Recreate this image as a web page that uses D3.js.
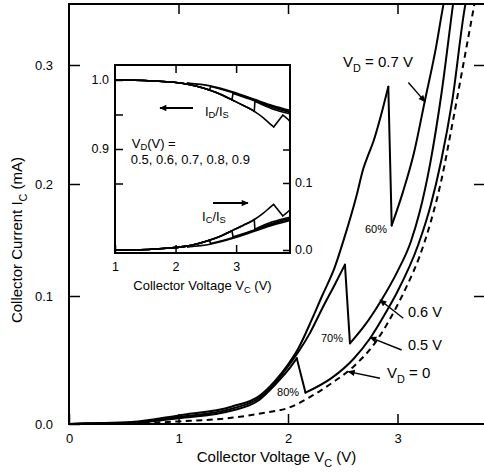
<!DOCTYPE html>
<html>
<head>
<meta charset="utf-8">
<script src="https://cdn.jsdelivr.net/npm/d3@7/dist/d3.min.js"></script>
<style>
  body { margin: 0; background: #fff; }
  svg text { font-family: "Liberation Sans", Arial, Helvetica, sans-serif; fill: #000; }
</style>
</head>
<body>
<svg id="chart" width="484" height="474"></svg>
<script>
// ---- main plot data (V_C in V, I_C in mA) ----
const mainXTicks = [0, 1, 2, 3];
const mainYTicks = [0.0, 0.1, 0.2, 0.3];

// V_D = 0, dashed
const curveVd0 = [[0.3, 0], [0.6, 0.0005], [1.0, 0.002], [1.5, 0.005], [1.8, 0.009], [2.0, 0.0125],
    [2.2, 0.021], [2.4, 0.032], [2.6, 0.045], [2.8, 0.064], [3.0, 0.093], [3.1, 0.112], [3.2, 0.135],
    [3.3, 0.165], [3.4, 0.203], [3.5, 0.25], [3.6, 0.3], [3.7, 0.35], [3.72, 0.36]];

// V_D = 0.5 V : rise up to the 80% peak, then after the drop
const riseVd05 = [[0, 0], [0.15, 0.0002], [0.57, 0.0008], [1.0, 0.0045], [1.49, 0.0105], [1.74, 0.019],
    [1.88, 0.0305], [2.0, 0.042], [2.08, 0.0513]];
const afterVd05 = [[2.16, 0.0245], [2.4, 0.036], [2.6, 0.051], [2.75, 0.067], [2.9, 0.088], [3.0, 0.104],
    [3.19, 0.146], [3.3, 0.18], [3.4, 0.22], [3.5, 0.27], [3.62, 0.351], [3.64, 0.36]];

// V_D = 0.6 V : 70% peak
const riseVd06 = [[0, 0], [0.15, 0.0003], [0.57, 0.001], [1.0, 0.0055], [1.49, 0.012], [1.74, 0.0205],
    [1.88, 0.032], [2.0, 0.045], [2.1, 0.057], [2.2, 0.071], [2.308, 0.0895], [2.429, 0.1105], [2.52, 0.128]];
const afterVd06 = [[2.566, 0.063], [2.7, 0.077], [2.84, 0.095], [3.0, 0.122], [3.12, 0.148], [3.2, 0.174],
    [3.3, 0.218], [3.4, 0.275], [3.507, 0.351], [3.52, 0.36]];

// V_D = 0.7 V : 60% peak
const riseVd07 = [[0, 0], [0.15, 0.0005], [0.57, 0.0015], [1.0, 0.0067], [1.49, 0.0137], [1.74, 0.022],
    [1.88, 0.0335], [2.0, 0.0465], [2.094, 0.059], [2.216, 0.0813], [2.308, 0.0994], [2.429, 0.1262],
    [2.505, 0.149], [2.627, 0.19], [2.688, 0.213], [2.733, 0.2244], [2.779, 0.2355], [2.85, 0.258], [2.916, 0.2818]];
const afterVd07 = [[2.947, 0.163], [3.05, 0.193], [3.15, 0.226], [3.25, 0.27], [3.35, 0.314], [3.42, 0.351], [3.44, 0.36]];

// labels and pointers on the main plot, in data units
const curveLabels = [
    {parts: [['V'], ['D', 1], [' = 0.7 V']], at: [2.502, 0.2983], size: 15},
    {parts: [['0.6 V']], at: [3.096, 0.0836], size: 14.5},
    {parts: [['0.5 V']], at: [3.096, 0.0578], size: 14.5},
    {parts: [['V'], ['D', 1], [' = 0']], at: [2.904, 0.0359], size: 15},
    {parts: [['60%']], at: [2.703, 0.1563], size: 11},
    {parts: [['70%']], at: [2.301, 0.0641], size: 11},
    {parts: [['80%']], at: [1.9, 0.0219], size: 11}
];
const curvePointers = [
    [[3.099, 0.2853], [3.251, 0.2692]],
    [[3.053, 0.0826], [2.840, 0.0969]],
    [[3.038, 0.0578], [2.749, 0.0677]],
    [[2.840, 0.0357], [2.551, 0.0409]]
];

// ---- inset data ----
const insetXTicks = [1, 2, 3];
const insetLeftTicks = [0.85, 0.9, 0.95, 1.0];
const insetRightTicks = [0.0, 0.1, 0.15];

// I_C/I_S : common rise, peak of each V_D, then the part after the drop
const icEnvelope = [[1, 0], [1.3, 0.0004], [1.6, 0.0012], [1.85, 0.0026], [2.13, 0.005], [2.35, 0.009],
    [2.57, 0.0149], [2.75, 0.021], [2.96, 0.030], [3.12, 0.037], [3.29, 0.0448], [3.45, 0.055],
    [3.56, 0.0635], [3.62, 0.068]];
const icPeaks = [[2.18, 0.0058], [2.56, 0.0146], [2.93, 0.0288], [3.30, 0.0455], [3.62, 0.068]];
const icAfter05 = [[2.2, 0.0045], [2.57, 0.0085], [2.95, 0.0175], [3.3, 0.028], [3.6, 0.037], [3.89, 0.044]];
const icAfter06 = [[2.58, 0.0095], [2.95, 0.0185], [3.3, 0.029], [3.6, 0.0385], [3.89, 0.0455]];
const icAfter07 = [[2.95, 0.0195], [3.3, 0.030], [3.6, 0.040], [3.89, 0.047]];
const icAfter08 = [[3.31, 0.031], [3.6, 0.042], [3.89, 0.049]];
const icAfter09 = [[3.77, 0.051], [3.83, 0.055], [3.89, 0.060]];

// I_D/I_S
const idEnvelope = [[1, 1.0], [1.3, 0.9996], [1.6, 0.9988], [1.85, 0.9974], [2.13, 0.995], [2.35, 0.991],
    [2.57, 0.9851], [2.75, 0.979], [2.96, 0.970], [3.12, 0.963], [3.29, 0.9552], [3.45, 0.945],
    [3.56, 0.9365], [3.62, 0.932]];
const idPeaks = [[2.18, 0.9942], [2.56, 0.9854], [2.93, 0.9712], [3.30, 0.9545], [3.62, 0.932]];
const idAfter05 = [[2.2, 0.9955], [2.57, 0.9915], [2.95, 0.9825], [3.3, 0.972], [3.6, 0.963], [3.89, 0.956]];
const idAfter06 = [[2.58, 0.9905], [2.95, 0.9815], [3.3, 0.971], [3.6, 0.9615], [3.89, 0.9545]];
const idAfter07 = [[2.95, 0.9805], [3.3, 0.970], [3.6, 0.960], [3.89, 0.953]];
const idAfter08 = [[3.31, 0.969], [3.6, 0.958], [3.89, 0.951]];
const idAfter09 = [[3.77, 0.949], [3.83, 0.945], [3.89, 0.940]];

const insetLabels = [
    {parts: [['I'], ['D', 1], ['/I'], ['S', 1]], at: [2.486, 0.9478], side: 'left'},
    {parts: [['V'], ['D', 1], ['(V) =']], at: [1.276, 0.9015], side: 'left'},
    {parts: [['0.5, 0.6, 0.7, 0.8, 0.9']], at: [1.259, 0.8780], side: 'left'},
    {parts: [['I'], ['C', 1], ['/I'], ['S', 1]], at: [2.437, 0.0433], side: 'right'}
];
const insetPointers = [
    {from: [2.288, 0.9594], to: [1.743, 0.9594], side: 'left'},
    {from: [2.618, 0.0701], to: [3.196, 0.0701], side: 'right'}
];

// ---- drawing ----
const svg = d3.select('#chart');

const xScale = d3.scaleLinear().domain([0, 3.8]).range([69, 485.1]);
const yScale = d3.scaleLinear().domain([0, 0.1, 0.2, 0.3, 0.3513]).range([424, 296, 184, 65, 4]);

const defs = svg.append('defs');
defs.append('clipPath').attr('id', 'main-clip')
    .append('rect').attr('x', 69).attr('y', 4).attr('width', 420).attr('height', 420);
defs.append('marker')
    .attr('id', 'head')
    .attr('viewBox', '0 0 10 10')
    .attr('refX', 9).attr('refY', 5)
    .attr('markerWidth', 8).attr('markerHeight', 7)
    .attr('markerUnits', 'userSpaceOnUse')
    .attr('orient', 'auto')
    .append('path').attr('d', 'M0,0.5L10,5L0,9.5Z').attr('fill', '#000');

// writes text with subscripts; parts = [[text, isSub], ...]
function richText(sel, parts, size, drop) {
    const shift = size * (drop || 0.3);
    parts.forEach((p, i) => {
        const t = sel.append('tspan').text(p[0]);
        if (p[1]) t.attr('font-size', size * 0.72).attr('dy', shift);
        else if (i > 0 && parts[i - 1][1]) t.attr('dy', -shift);
    });
}

// main curves
const smooth = (xs, ys) => d3.line().x(d => xs(d[0])).y(d => ys(d[1])).curve(d3.curveMonotoneX);
const straight = (xs, ys) => d3.line().x(d => xs(d[0])).y(d => ys(d[1]));

const curves = svg.append('g')
    .attr('clip-path', 'url(#main-clip)')
    .attr('fill', 'none')
    .attr('stroke', '#000')
    .attr('stroke-linecap', 'round')
    .attr('stroke-linejoin', 'round');

curves.append('path')
    .attr('d', smooth(xScale, yScale)(curveVd0))
    .attr('stroke-width', 2)
    .attr('stroke-linecap', 'butt')
    .attr('stroke-dasharray', '6,4.5');

const mainCurves = [
    {rise: riseVd05, after: afterVd05},
    {rise: riseVd06, after: afterVd06},
    {rise: riseVd07, after: afterVd07}
];
mainCurves.forEach(c => {
    const peak = c.rise[c.rise.length - 1];
    curves.append('path').attr('stroke-width', 2).attr('d', smooth(xScale, yScale)(c.rise));
    curves.append('path').attr('stroke-width', 2).attr('d', straight(xScale, yScale)([peak, c.after[0]]));
    curves.append('path').attr('stroke-width', 2).attr('d', smooth(xScale, yScale)(c.after));
});

// main axes (ticks inward)
const fmt1 = d3.format('.1f');
let xAxis = svg.append('g').attr('transform', 'translate(0,424)')
    .call(d3.axisBottom(xScale).tickValues(mainXTicks).tickSize(-10).tickPadding(9.5).tickFormat(d3.format('d')));
let xAxisTop = svg.append('g').attr('transform', 'translate(0,4)')
    .call(d3.axisTop(xScale).tickValues([1, 2, 3]).tickSize(-10).tickFormat(() => ''));
let yAxis = svg.append('g').attr('transform', 'translate(69,0)')
    .call(d3.axisLeft(yScale).tickValues(mainYTicks).tickSize(-11).tickPadding(16).tickFormat(fmt1));
let yAxisRight = svg.append('g').attr('transform', 'translate(486,0)')
    .call(d3.axisRight(yScale).tickValues([0.1, 0.2, 0.3]).tickSize(-12).tickFormat(() => ''));
[xAxis, xAxisTop, yAxis, yAxisRight].forEach(a => {
    a.select('.domain').remove();
    a.attr('font-size', 13);
    a.selectAll('line').attr('stroke-width', 1.5);
});

// frame
svg.append('path')
    .attr('d', 'M486,4H69V424H486')
    .attr('fill', 'none').attr('stroke', '#000').attr('stroke-width', 2);

// axis titles
richText(svg.append('text')
    .attr('x', 276.5).attr('y', 462)
    .attr('text-anchor', 'middle').attr('font-size', 15),
    [['Collector Voltage V'], ['C', 1], [' (V)']], 15);
richText(svg.append('text')
    .attr('transform', 'rotate(-90)')
    .attr('x', -240).attr('y', 22)
    .attr('text-anchor', 'middle').attr('font-size', 15),
    [['Collector Current I'], ['C', 1], [' (mA)']], 15);

// curve labels and pointers
curveLabels.forEach(l => {
    richText(svg.append('text')
        .attr('x', xScale(l.at[0])).attr('y', yScale(l.at[1]))
        .attr('font-size', l.size), l.parts, l.size);
});
curvePointers.forEach(p => {
    svg.append('line')
        .attr('x1', xScale(p[0][0])).attr('y1', yScale(p[0][1]))
        .attr('x2', xScale(p[1][0])).attr('y2', yScale(p[1][1]))
        .attr('stroke', '#000').attr('stroke-width', 1.4)
        .attr('marker-end', 'url(#head)');
});

// ---- inset ----
const ix = d3.scaleLinear().domain([1, 3.89]).range([115, 290]);
const iyLeft = d3.scaleLinear().domain([0.7493, 1.0217]).range([253, 65]);
const iyRight = d3.scaleLinear().domain([-0.0045, 0.2761]).range([253, 65]);

const inset = svg.append('g');
inset.append('rect')
    .attr('x', 115).attr('y', 65).attr('width', 175).attr('height', 188)
    .attr('fill', '#fff');

const insetCurves = inset.append('g')
    .attr('fill', 'none')
    .attr('stroke', '#000')
    .attr('stroke-width', 1.6)
    .attr('stroke-linecap', 'round')
    .attr('stroke-linejoin', 'round');

function drawFamily(envelope, peaks, afters, ys) {
    peaks.forEach((pk, i) => {
        const rise = envelope.filter(d => d[0] < pk[0]).concat([pk]);
        insetCurves.append('path').attr('d', smooth(ix, ys)(rise));
        insetCurves.append('path').attr('d', straight(ix, ys)([pk, afters[i][0]]));
        insetCurves.append('path').attr('d', smooth(ix, ys)(afters[i]));
    });
}
drawFamily(icEnvelope, icPeaks, [icAfter05, icAfter06, icAfter07, icAfter08, icAfter09], iyRight);
drawFamily(idEnvelope, idPeaks, [idAfter05, idAfter06, idAfter07, idAfter08, idAfter09], iyLeft);

let ixAxis = inset.append('g').attr('transform', 'translate(0,253)')
    .call(d3.axisBottom(ix).tickValues(insetXTicks).tickSize(-8).tickPadding(9.5).tickFormat(d3.format('d')));
let ixAxisTop = inset.append('g').attr('transform', 'translate(0,65)')
    .call(d3.axisTop(ix).tickValues([2, 3]).tickSize(-8).tickFormat(() => ''));
let iyAxisLeft = inset.append('g').attr('transform', 'translate(115,0)')
    .call(d3.axisLeft(iyLeft).tickValues(insetLeftTicks).tickSize(-8).tickPadding(6)
        .tickFormat(d => (d === 0.9 || d === 1.0) ? fmt1(d) : ''));
let iyAxisRight = inset.append('g').attr('transform', 'translate(290,0)')
    .call(d3.axisRight(iyRight).tickValues(insetRightTicks).tickSize(-7).tickPadding(5)
        .tickFormat(d => (d === 0 || d === 0.1) ? fmt1(d) : ''));
[ixAxis, ixAxisTop, iyAxisLeft, iyAxisRight].forEach(a => {
    a.select('.domain').remove();
    a.attr('font-size', 12.5);
    a.selectAll('line').attr('stroke-width', 1.5);
});

inset.append('rect')
    .attr('x', 115).attr('y', 65).attr('width', 175).attr('height', 188)
    .attr('fill', 'none').attr('stroke', '#000').attr('stroke-width', 2);

richText(inset.append('text')
    .attr('x', 202.5).attr('y', 289.5)
    .attr('text-anchor', 'middle').attr('font-size', 13),
    [['Collector Voltage V'], ['C', 1], [' (V)']], 13);

insetLabels.forEach(l => {
    const ys = l.side === 'left' ? iyLeft : iyRight;
    richText(inset.append('text')
        .attr('x', ix(l.at[0])).attr('y', ys(l.at[1]))
        .attr('font-size', 13), l.parts, 13, 0.18);
});
insetPointers.forEach(p => {
    const ys = p.side === 'left' ? iyLeft : iyRight;
    inset.append('line')
        .attr('x1', ix(p.from[0])).attr('y1', ys(p.from[1]))
        .attr('x2', ix(p.to[0])).attr('y2', ys(p.to[1]))
        .attr('stroke', '#000').attr('stroke-width', 2)
        .attr('marker-end', 'url(#head)');
});
</script>
</body>
</html>
